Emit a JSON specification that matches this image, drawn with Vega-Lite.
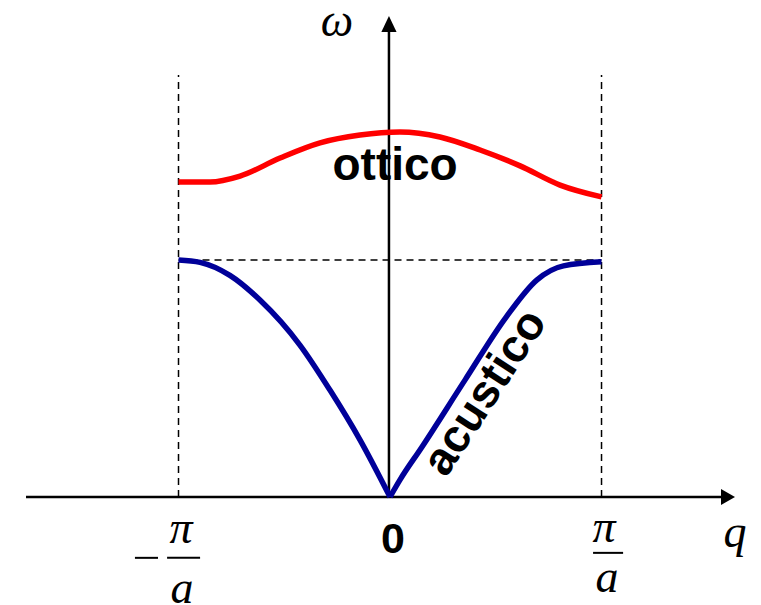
{
  "$schema": "https://vega.github.io/schema/vega-lite/v6.json",
  "width": 761,
  "height": 605,
  "autosize": {"type": "none"},
  "padding": 0,
  "background": "white",
  "config": {"view": {"stroke": null}},
  "datasets": {
    "guides": [
      {"q1": -1, "w1": 0, "q2": -1, "w2": 1.781},
      {"q1": 1, "w1": 0, "q2": 1, "w2": 1.781},
      {"q1": -1, "w1": 1, "q2": 1, "w2": 1}
    ],
    "axes": [
      {"q1": -1.721, "w1": 0, "q2": 1.57, "w2": 0},
      {"q1": -0.005, "w1": 0, "q2": -0.005, "w2": 1.962}
    ],
    "bars": [
      {"q1": -1.054, "w1": -0.257, "q2": -0.898, "w2": -0.257},
      {"q1": -1.206, "w1": -0.257, "q2": -1.097, "w2": -0.257},
      {"q1": 0.96, "w1": -0.236, "q2": 1.102, "w2": -0.236}
    ],
    "branches": [
      {"branch": "ottico", "side": "o", "q": -1.0, "w": 1.329},
      {"branch": "ottico", "side": "o", "q": -0.851, "w": 1.329},
      {"branch": "ottico", "side": "o", "q": -0.709, "w": 1.354},
      {"branch": "ottico", "side": "o", "q": -0.52, "w": 1.43},
      {"branch": "ottico", "side": "o", "q": -0.331, "w": 1.494},
      {"branch": "ottico", "side": "o", "q": -0.142, "w": 1.527},
      {"branch": "ottico", "side": "o", "q": 0.047, "w": 1.54},
      {"branch": "ottico", "side": "o", "q": 0.236, "w": 1.519},
      {"branch": "ottico", "side": "o", "q": 0.426, "w": 1.464},
      {"branch": "ottico", "side": "o", "q": 0.615, "w": 1.397},
      {"branch": "ottico", "side": "o", "q": 0.804, "w": 1.316},
      {"branch": "ottico", "side": "o", "q": 1.0, "w": 1.266},
      {"branch": "acustico", "side": "left", "q": -1.0, "w": 1.0},
      {"branch": "acustico", "side": "left", "q": -0.898, "w": 0.99},
      {"branch": "acustico", "side": "left", "q": -0.757, "w": 0.935},
      {"branch": "acustico", "side": "left", "q": -0.615, "w": 0.831},
      {"branch": "acustico", "side": "left", "q": -0.426, "w": 0.641},
      {"branch": "acustico", "side": "left", "q": -0.284, "w": 0.451},
      {"branch": "acustico", "side": "left", "q": -0.142, "w": 0.241},
      {"branch": "acustico", "side": "left", "q": 0.0, "w": 0.0},
      {"branch": "acustico", "side": "right", "q": 0.0, "w": 0.0},
      {"branch": "acustico", "side": "right", "q": 0.047, "w": 0.072},
      {"branch": "acustico", "side": "right", "q": 0.151, "w": 0.211},
      {"branch": "acustico", "side": "right", "q": 0.355, "w": 0.494},
      {"branch": "acustico", "side": "right", "q": 0.55, "w": 0.76},
      {"branch": "acustico", "side": "right", "q": 0.695, "w": 0.916},
      {"branch": "acustico", "side": "right", "q": 0.82, "w": 0.975},
      {"branch": "acustico", "side": "right", "q": 1.0, "w": 0.992}
    ],
    "serifLabels": [
      {"label": "ω", "q": -0.251, "w": 1.945},
      {"label": "q", "q": 1.631, "w": -0.211},
      {"label": "π", "q": 1.012, "w": -0.19},
      {"label": "a", "q": 1.026, "w": -0.401},
      {"label": "π", "q": -0.988, "w": -0.194},
      {"label": "a", "q": -0.983, "w": -0.447}
    ],
    "zero": [{"label": "0", "q": 0.014, "w": -0.236}],
    "optLabel": [{"label": "ottico", "q": 0.024, "w": 1.338}],
    "acuLabel": [{"label": "acustico", "q": 0.45, "w": 0.44}]
  },
  "encoding": {
    "x": {"field": "q", "type": "quantitative", "scale": {"domain": [-1.844, 1.754], "nice": false, "zero": false}, "axis": null},
    "y": {"field": "w", "type": "quantitative", "scale": {"domain": [-0.456, 2.097], "nice": false, "zero": false}, "axis": null}
  },
  "layer": [
    {
      "data": {"name": "guides"},
      "mark": {"type": "rule", "color": "black", "strokeWidth": 1.5, "strokeDash": [7, 5]},
      "encoding": {
        "x": {"field": "q1", "type": "quantitative"},
        "y": {"field": "w1", "type": "quantitative"},
        "x2": {"field": "q2"},
        "y2": {"field": "w2"}
      }
    },
    {
      "data": {"name": "axes"},
      "mark": {"type": "rule", "color": "black", "strokeWidth": 2.5},
      "encoding": {
        "x": {"field": "q1", "type": "quantitative"},
        "y": {"field": "w1", "type": "quantitative"},
        "x2": {"field": "q2"},
        "y2": {"field": "w2"}
      }
    },
    {
      "data": {"values": [{"q": 1.598, "w": 0}]},
      "mark": {"type": "point", "shape": "M1,0L-1,-1.15L-1,1.15Z", "filled": true, "color": "black", "opacity": 1, "size": 196}
    },
    {
      "data": {"values": [{"q": -0.005, "w": 1.996}]},
      "mark": {"type": "point", "shape": "M0,-1L0.95,1L-0.95,1Z", "filled": true, "color": "black", "opacity": 1, "size": 256}
    },
    {
      "data": {"name": "bars"},
      "mark": {"type": "rule", "color": "black", "strokeWidth": 2},
      "encoding": {
        "x": {"field": "q1", "type": "quantitative"},
        "y": {"field": "w1", "type": "quantitative"},
        "x2": {"field": "q2"},
        "y2": {"field": "w2"}
      }
    },
    {
      "data": {"name": "branches"},
      "mark": {"type": "line", "strokeWidth": 5.5, "interpolate": "monotone", "strokeCap": "butt"},
      "encoding": {
        "detail": {"field": "side"},
        "color": {"field": "branch", "type": "nominal", "scale": {"domain": ["ottico", "acustico"], "range": ["#ff0000", "#000099"]}, "legend": null}
      }
    },
    {
      "data": {"name": "serifLabels"},
      "mark": {"type": "text", "font": "Liberation Serif", "fontStyle": "italic", "fontSize": 46, "align": "center", "baseline": "alphabetic", "color": "black"},
      "encoding": {"text": {"field": "label"}}
    },
    {
      "data": {"name": "zero"},
      "mark": {"type": "text", "font": "Liberation Sans", "fontWeight": "bold", "fontSize": 43, "align": "center", "baseline": "alphabetic", "color": "black"},
      "encoding": {"text": {"field": "label"}}
    },
    {
      "data": {"name": "optLabel"},
      "mark": {"type": "text", "font": "Liberation Sans", "fontWeight": "bold", "fontSize": 46, "align": "center", "baseline": "alphabetic", "color": "black"},
      "encoding": {"text": {"field": "label"}}
    },
    {
      "data": {"name": "acuLabel"},
      "mark": {"type": "text", "font": "Liberation Sans", "fontWeight": "bold", "fontSize": 46, "align": "center", "baseline": "middle", "angle": 303, "color": "black"},
      "encoding": {"text": {"field": "label"}}
    }
  ]
}
